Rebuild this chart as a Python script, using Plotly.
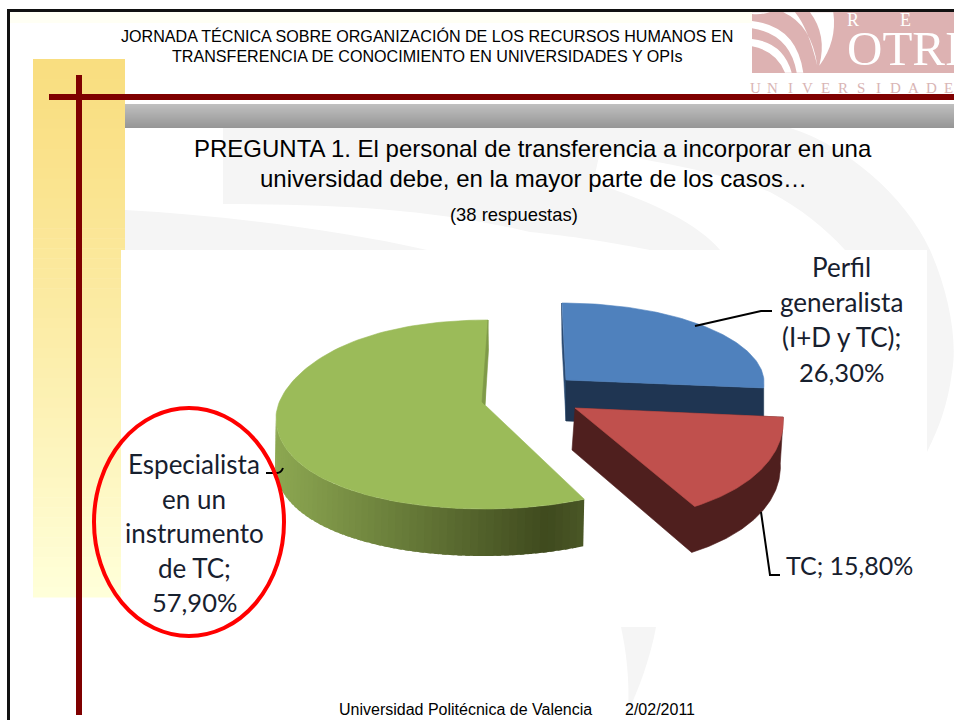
import math
import plotly.graph_objects as go

# ---- chart data ----
categories = ["Perfil generalista (I+D y TC)", "TC", "Especialista en un instrumento de TC"]
values = [26.30, 15.80, 57.90]
responses = 38
label_lines = [["Perfil", "generalista", "(I+D y TC);"], ["TC;"], ["Especialista", "en un", "instrumento", "de TC;"]]
face_colors = ["#4F81BD", "#C0504D", "#9BBB59"]
wall_colors = ["#1F3552", "#4F1F1E", None]

header_lines = ["JORNADA TÉCNICA SOBRE ORGANIZACIÓN DE LOS RECURSOS HUMANOS EN",
                "TRANSFERENCIA DE CONOCIMIENTO EN UNIVERSIDADES Y OPIs"]
title_lines = ["PREGUNTA 1. El personal de transferencia a incorporar en una",
               "universidad debe, en la mayor parte de los casos…"]
footer_left = "Universidad Politécnica de Valencia"
footer_right = "2/02/2011"

# ---- projection of each exploded slice (page pixels) ----
geom = [
    dict(ax=566, ay=380, a=198, s=4, bt=77, bb=85, sag=1, dx=0, dz=41),
    dict(ax=575, ay=408, a=207, s=24, bt=90, bb=112, sag=0, dx=-3, dz=46),
    dict(ax=486, ay=405, a=210, s=-2, bt=85, bb=104, sag=12, dx=-1, dz=47),
]


def pt(g, t, wall=False):
    c, s = math.cos(t), math.sin(t)
    x = g["ax"] + g["a"] * s - g["s"] * c
    if c > 0:
        y = g["ay"] - g["bt"] * c + g["sag"] * s ** 4
    else:
        y = g["ay"] - g["bb"] * c + g["sag"] * s * s
    if wall:
        x += g["dx"]
        y += g["dz"]
    return x, y


def poly(pts, color, lw=0.6):
    return go.Scatter(x=[p[0] for p in pts] + [pts[0][0]], y=[p[1] for p in pts] + [pts[0][1]],
                      mode="lines", fill="toself", fillcolor=color,
                      line=dict(color=color, width=lw), hoverinfo="skip", showlegend=False)


def lerp(c1, c2, f):
    a = [int(c1[i:i + 2], 16) for i in (1, 3, 5)]
    b = [int(c2[i:i + 2], 16) for i in (1, 3, 5)]
    return "#" + "".join(f"{round(a[i] + (b[i] - a[i]) * f):02X}" for i in range(3))


total = sum(values)
bounds = [0.0]
for v in values:
    bounds.append(bounds[-1] + v / total * 2 * math.pi)


def arc(i, n=90):
    t0, t1 = bounds[i], bounds[i + 1]
    return [t0 + (t1 - t0) * k / n for k in range(n + 1)]


traces = []
# blue slice
g = geom[0]
ts = arc(0)
apex = (g["ax"], g["ay"])
ap_w = (g["ax"], g["ay"] + g["dz"])
top = pt(g, ts[0])
traces.append(poly([(top[0] - 0.5, top[1]), (top[0], top[1] + 40), ap_w, apex], "#2A4A72"))
traces.append(poly([apex, ap_w, pt(g, ts[-1], True), pt(g, ts[-1])], wall_colors[0]))
traces.append(poly([apex] + [pt(g, t) for t in ts], face_colors[0]))

# red slice
g = geom[1]
ts = arc(1)
apex = (g["ax"], g["ay"])
ap_w = (g["ax"] + g["dx"], g["ay"] + g["dz"] - 4)
traces.append(poly([apex, ap_w, pt(g, ts[-1], True)] + [pt(g, t, True) for t in reversed(ts)] + [pt(g, ts[0])],
                   wall_colors[1]))
traces.append(poly([apex] + [pt(g, t) for t in ts], face_colors[1]))

# green slice: shaded wall in overlapping strips
g = geom[2]
ts = arc(2, 120)
t_start, t_end = ts[0], 3 * math.pi / 2 + 0.02
n_strips = 56
step = (t_end - t_start) / n_strips
for k in range(n_strips):
    t0 = t_start + k * step
    t1 = t0 + step * 1.6
    xm = pt(g, t0 + step / 2)[0]
    if xm < 547:
        col = lerp("#8CA751", "#3F4A1E", max(0, (xm - 278) / (547 - 278)))
    else:
        col = lerp("#3F4A1E", "#4A5726", (xm - 547) / 38)
    sub = [t0 + (t1 - t0) * j / 4 for j in range(5)]
    traces.append(poly([pt(g, t) for t in sub] + [pt(g, t, True) for t in reversed(sub)], col, 0))
apex = (g["ax"] - 1, g["ay"])
traces.append(poly([apex] + [pt(g, t) for t in ts], face_colors[2]))
top = pt(g, ts[-1])
traces.append(poly([top, (top[0] + 0.5, top[1] + 30), apex, (apex[0] - 3, apex[1] - 3)], "#7F9A48"))

fig = go.Figure(traces)

shapes = []


def rect(x0, y0, x1, y1, color, layer="below"):
    shapes.append(dict(type="rect", x0=x0, y0=y0, x1=x1, y1=y1, fillcolor=color,
                       line=dict(width=0), layer=layer))


def path(d, color, layer="below", line=None):
    shapes.append(dict(type="path", path=d, fillcolor=color,
                       line=line or dict(width=0), layer=layer))


wm = "#F5F5F5"
# watermark swooshes
path("M223,128 L790,128 C845,145 905,195 930,250 C948,290 958,340 952,372 C948,405 938,430 927,452 "
     "L880,250 L650,250 C600,240 560,235 530,232 C430,208 330,204 223,204 Z", wm)
path("M125,210 C230,216 340,230 427,250 L125,250 Z", wm)
path("M600,152 C650,160 720,172 770,192 C800,208 825,228 845,250 L720,250 C700,225 650,200 593,183 Z", "#FFFFFF")
path("M621,627 L656,627 C650,660 638,690 628,712 C630,680 626,650 621,627 Z", wm)
# gold column
n = 54
for i in range(n):
    y0 = 59 + (597 - 59) * i / n
    y1 = 59 + (597 - 59) * (i + 1) / n
    rect(33, y0, 125, y1 + 0.5, lerp("#F9DE80", "#FFFFD9", (i / (n - 1)) ** 1.2))
# top tint
rect(10, 12, 752, 23, "#FFFFF4")
# grey band
for i in range(24):
    rect(125, 104 + i, 954, 105 + i, lerp("#BFBFBF", "#969696", i / 23))
# chart box
rect(121, 250, 927, 627, "#FFFFFF")
# logo
rect(752, 12, 954, 73, "#DDB2B2")


def zp(zx, zy):
    return f"{740 + zx / 3:.1f},{5 + zy / 3:.1f}"


def zpath(cmds):
    return " ".join(c if isinstance(c, str) else zp(*c) for c in cmds)


path(zpath(["M", (210, 22), "Q", (262, 90), (238, 182), "Q", (292, 110), (280, 22), "Z"]), "#FFFFFF")
path(zpath(["M", (36, 48), "Q", (170, 62), (190, 203), "L", (170, 203), "Q", (150, 88), (36, 70), "Z"]), "#FFFFFF")
path(zpath(["M", (36, 102), "Q", (130, 112), (155, 203), "L", (135, 203), "Q", (110, 138), (36, 124), "Z"]), "#FFFFFF")
path(zpath(["M", (130, 22), "Q", (215, 60), (232, 182), "Q", (205, 70), (165, 22), "Z"]), "#FFFFFF")
path(zpath(["M", (36, 22), "L", (90, 22), "Q", (60, 30), (36, 27), "Z"]), "#FFFFFF")
# frame and bars
rect(8, 9, 954, 12, "#111111")
rect(7, 9, 10, 720, "#111111")
rect(49, 94, 954, 100, "#7F0000")
rect(76, 75, 82, 715, "#7F0000")
# leaders
lead = dict(color="#000000", width=2)
path("M695,326 L761,311 L772,311", "rgba(0,0,0,0)", "above", lead)
path("M761,512 L770,575 L780,575", "rgba(0,0,0,0)", "above", lead)
path("M266,473 L277,473 Q281,473 283,468", "rgba(0,0,0,0)", "above", lead)
# highlight ellipse
shapes.append(dict(type="circle", x0=94, y0=408, x1=284, y1=636, fillcolor="rgba(0,0,0,0)",
                   line=dict(color="#FF0000", width=4), layer="above"))

ann = []


def text(x, y, s, size, color="#000000", family="Liberation Sans", anchor="center"):
    ann.append(dict(x=x, y=y, text=s, showarrow=False, xanchor=anchor, yanchor="middle",
                    font=dict(family=family, size=size, color=color)))


text(427, 36, header_lines[0], 16.1)
text(427, 56, header_lines[1], 16.1)
text(533, 148, title_lines[0], 24)
text(533, 178, title_lines[1], 24)
text(514, 214, f"({responses} respuestas)", 18.4)
text(465, 709, footer_left, 16)
text(660, 709, footer_right, 16)


def pct(v):
    return f"{v:.2f}".replace(".", ",") + "%"


lab = "#17202E"
for i, s in enumerate(label_lines[0]):
    text(841, 267 + i * 35, s, 26, lab, "Lato")
text(841, 372, pct(values[0]), 25.5, lab, "Lato")
text(849, 565, label_lines[1][0] + " " + pct(values[1]), 25, lab, "Lato")
for i, s in enumerate(label_lines[2]):
    text(194, 464 + i * 34.5, s, 26, lab, "Lato")
text(194, 602, pct(values[2]), 25.5, lab, "Lato")

# logo lettering
for x, s in [(853, "R"), (905, "E")]:
    text(x, 20, s, 18, "#FFFFFF", "Liberation Serif")
text(845, 48, "OTRI", 49, "#FFFFFF", "Liberation Serif", "left")
for i, s in enumerate("UNIVERSIDADE"):
    text(755 + i * 17.6, 88, s, 15, "#D9B5B5", "Liberation Serif")

fig.update_layout(
    width=954, height=720, margin=dict(l=0, r=0, t=0, b=0, pad=0),
    paper_bgcolor="#FFFFFF", plot_bgcolor="#FFFFFF", showlegend=False,
    xaxis=dict(range=[0, 954], visible=False, fixedrange=True),
    yaxis=dict(range=[720, 0], visible=False, fixedrange=True),
    shapes=shapes, annotations=ann,
)
fig.write_html("out.html", post_script="document.body.style.margin='0';",
               config={"displayModeBar": False})
